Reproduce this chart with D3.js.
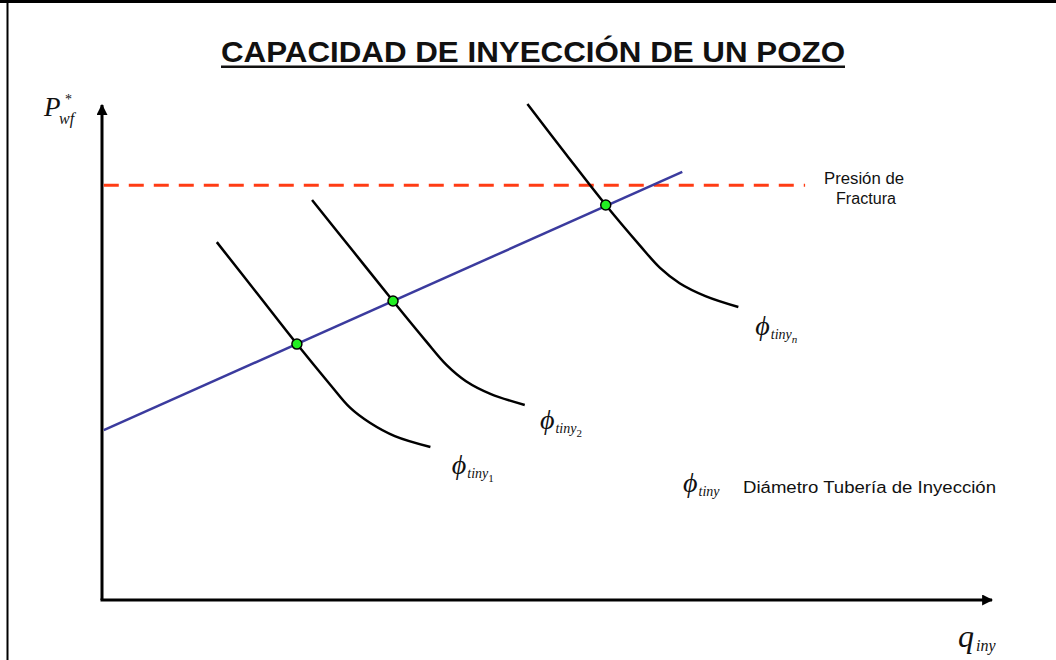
<!DOCTYPE html>
<html><head><meta charset="utf-8">
<script src="https://cdn.jsdelivr.net/npm/d3@7"></script>
<style>body{margin:0;background:#fff}svg{display:block}</style>
</head><body>
<svg id="c" width="1056" height="660"></svg>
<script>
// Data (schematic units, 0..10 on both axes)
const curve1 = [[1.29,7.23],[1.74,6.20],[2.19,5.17],[2.56,4.36],[2.79,3.88],[3.01,3.58],[3.29,3.31],[3.69,3.09]];
const curve2 = [[2.36,8.08],[2.82,7.05],[3.27,6.04],[3.64,5.23],[3.87,4.75],[4.09,4.42],[4.37,4.16],[4.75,3.94]];
const curveN = [[4.78,10.02],[5.22,8.99],[5.66,7.98],[6.04,7.17],[6.27,6.71],[6.49,6.40],[6.78,6.14],[7.15,5.92]];
const injectionLine = [[0.02,3.43],[6.52,8.65]];
const fracturePressure = 8.38;
const fractureRange = [0.02, 7.9];
const intersections = [[2.19,5.17],[3.27,6.04],[5.66,7.98]];
const curveLabels = [
  {sub:"1", x:3.93, y:2.55},
  {sub:"2", x:4.92, y:3.45},
  {sub:"n", x:7.34, y:5.35}
];

const svg = d3.select("#c");
const x = d3.scaleLinear().domain([0,10]).range([102,992]);
const y = d3.scaleLinear().domain([0,10]).range([600,105]);

// frame
svg.append("rect").attr("x",0).attr("y",0).attr("width",1056).attr("height",3).attr("fill","#000");
svg.append("line").attr("x1",7.5).attr("x2",7.5).attr("y1",0).attr("y2",660).attr("stroke","#000").attr("stroke-width",2);

// arrow marker
const defs = svg.append("defs");
defs.append("marker").attr("id","arr").attr("viewBox","0 0 10 10").attr("refX",9).attr("refY",5)
  .attr("markerWidth",11).attr("markerHeight",11).attr("markerUnits","userSpaceOnUse").attr("orient","auto")
  .append("path").attr("d","M0,0L10,5L0,10Z").attr("fill","#000");

// axes
svg.append("line").attr("x1",x(0)).attr("y1",y(0)).attr("x2",x(0)).attr("y2",y(10))
  .attr("stroke","#000").attr("stroke-width",3).attr("marker-end","url(#arr)");
svg.append("line").attr("x1",x(0)-1.5).attr("y1",y(0)).attr("x2",x(10)).attr("y2",y(0))
  .attr("stroke","#000").attr("stroke-width",3).attr("marker-end","url(#arr)");

// fracture pressure
svg.append("line").attr("x1",x(fractureRange[0])).attr("x2",x(fractureRange[1]))
  .attr("y1",y(fracturePressure)).attr("y2",y(fracturePressure))
  .attr("stroke","#ff3c14").attr("stroke-width",3).attr("stroke-dasharray","15,10");

// injection line
const line = d3.line().x(d=>x(d[0])).y(d=>y(d[1]));
svg.append("path").attr("d",line(injectionLine)).attr("fill","none").attr("stroke","#3b3b9e").attr("stroke-width",2.5);

// tubing curves
const cl = d3.line().x(d=>x(d[0])).y(d=>y(d[1])).curve(d3.curveCatmullRom);
[curve1,curve2,curveN].forEach(c=>{
  svg.append("path").attr("d",cl(c)).attr("fill","none").attr("stroke","#000").attr("stroke-width",2.5);
});

// intersection points
svg.selectAll("circle.pt").data(intersections).join("circle").attr("class","pt")
  .attr("cx",d=>x(d[0])).attr("cy",d=>y(d[1])).attr("r",5)
  .attr("fill","#22ee22").attr("stroke","#000").attr("stroke-width",1.5);

// title
svg.append("text").attr("x",533).attr("y",62).attr("text-anchor","middle")
  .attr("font-family","Liberation Sans, Arial, sans-serif").attr("font-weight","bold").attr("font-size",30)
  .attr("textLength",624).attr("lengthAdjust","spacingAndGlyphs").attr("fill","#111")
  .text("CAPACIDAD DE INYECCIÓN DE UN POZO");
svg.append("rect").attr("x",221).attr("y",65.5).attr("width",624).attr("height",2.5).attr("fill","#111");

const serif = "Liberation Serif, Times New Roman, serif";
// y label
const yl = svg.append("text").attr("font-family",serif).attr("font-style","italic").attr("fill","#111");
yl.append("tspan").attr("x",44).attr("y",116).attr("font-size",27).text("P");
yl.append("tspan").attr("x",59).attr("y",124).attr("font-size",16).text("wf");
svg.append("text").attr("x",65).attr("y",104).attr("font-family",serif).attr("font-size",14).attr("fill","#111").text("*");

// x label
const xl = svg.append("text").attr("font-family",serif).attr("font-style","italic").attr("fill","#111");
xl.append("tspan").attr("x",958).attr("y",647).attr("font-size",32).text("q");
xl.append("tspan").attr("x",976).attr("y",651).attr("font-size",16).text("iny");

// fracture label
const sans = "Liberation Sans, Arial, sans-serif";
svg.append("text").attr("x",864).attr("y",184).attr("text-anchor","middle").attr("font-family",sans).attr("font-size",16)
  .attr("textLength",80).attr("lengthAdjust","spacingAndGlyphs").attr("fill","#111").text("Presión de");
svg.append("text").attr("x",866).attr("y",204).attr("text-anchor","middle").attr("font-family",sans).attr("font-size",16)
  .attr("textLength",60).attr("lengthAdjust","spacingAndGlyphs").attr("fill","#111").text("Fractura");

// curve labels
function phiLabel(px, py, sub){
  const t = svg.append("text").attr("font-family",serif).attr("font-style","italic").attr("fill","#111");
  t.append("tspan").attr("x",px).attr("y",py).attr("font-size",28).text("ϕ");
  t.append("tspan").attr("dx",1).attr("dy",4).attr("font-size",14).text("tiny");
  if(sub){ t.append("tspan").attr("dx",0).attr("dy",4).attr("font-size",11).attr("font-style",sub==="n"?"italic":"normal").text(sub); }
}
curveLabels.forEach(d=>phiLabel(x(d.x), y(d.y), d.sub));
phiLabel(683, 492, null);
svg.append("text").attr("x",743).attr("y",493).attr("font-family",sans).attr("font-size",16)
  .attr("textLength",253).attr("lengthAdjust","spacingAndGlyphs").attr("fill","#111").text("Diámetro Tubería de Inyección");
</script>
</body></html>
